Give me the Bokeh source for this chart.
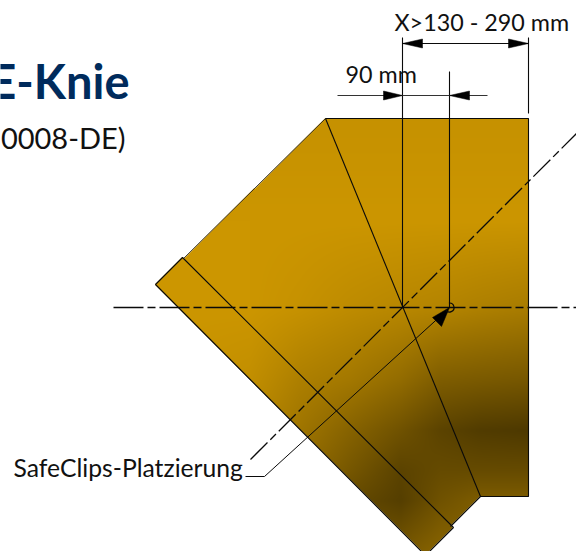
import numpy as np
from bokeh.plotting import figure
from bokeh.models import Range1d
from bokeh.core.properties import value
from bokeh.embed import file_html
from bokeh.resources import INLINE

# outlines in page pixels
body_x = [325, 528, 528, 480, 450, 183]
body_y = [118, 118, 496, 496, 526, 258]
flange_x = [182, 155, 425, 453]
flange_y = [257, 284, 555, 527]
miter_x = [325, 480]
miter_y = [118, 496]
ext_x = [402, 449, 528]
ext_top = [37, 71, 37]
ext_bot = [307, 307, 113]
dim1_x = [402, 528]
dim1_y = [43, 43]
dim2_x = [337, 487]
dim2_y = [95, 95]
center_h_x = [113, 576]
center_h_y = [307, 307]
center_d_x = [250, 576]
center_d_y = [459, 133]
leader_x = [245, 264, 445]
leader_y = [476, 476, 311]
arrow_xs = [[402, 422, 422], [528, 508, 508], [402, 383, 383], [449, 469, 469], [449, 441, 432]]
arrow_ys = [[43, 38.5, 47.5], [43, 38.5, 47.5], [95, 90.5, 99.5], [95, 90.5, 99.5], [307, 326, 317]]
# brightness of the gold surface on a coarse grid
shade_x = [150, 250, 300, 350, 400, 440, 480, 530]
shade_y = [118, 220, 310, 380, 430, 470, 500, 555]
shade = [
    [.97, .97, .97, .97, .97, .97, .97, .97],
    [1.0, 1.0, 1.0, 1.0, 1.0, 1.0, 1.0, 1.0],
    [1.0, 1.0, .97, .93, .90, .88, .85, .82],
    [1.0, .95, .85, .80, .72, .62, .60, .58],
    [1.0, .90, .78, .66, .55, .45, .40, .38],
    [1.0, .85, .72, .58, .45, .50, .50, .50],
    [1.0, .80, .65, .50, .42, .55, .62, .62],
    [1.0, .80, .65, .55, .60, .68, .68, .68],
]
gold = np.array([204, 150, 0])
title = "E-Knie"
subtitle = "0008-DE)"
dim1_label = "X>130 - 290 mm"
dim2_label = "90 mm"
leader_label = "SafeClips-Platzierung"

W, H = 576, 551
p = figure(width=W, height=H, output_backend="svg", toolbar_location=None,
           x_range=Range1d(0, W), y_range=Range1d(H, 0), min_border=0)
p.axis.visible = False
p.grid.visible = False
p.outline_line_color = None
p.background_fill_color = "white"
p.border_fill_color = "white"


def inside(px, py, xs, ys):
    res = np.zeros(px.shape, bool)
    n = len(xs)
    for i in range(n):
        x1, y1, x2, y2 = xs[i], ys[i], xs[(i + 1) % n], ys[(i + 1) % n]
        if y1 == y2:
            continue
        cross = ((y1 > py) != (y2 > py)) & (px < (x2 - x1) * (py - y1) / (y2 - y1) + x1)
        res ^= cross
    return res


x0, x1, y0, y1 = 150, 535, 112, 556
gx, gy = np.meshgrid(np.arange(x0, x1) + .5, np.arange(y0, y1) + .5)
sh = np.array(shade)
rows = np.array([np.interp(gx[0], shade_x, r) for r in sh])
field = np.array([np.interp(gy[:, 0], shade_y, c) for c in rows.T]).T
mask = inside(gx, gy, body_x, body_y) | inside(gx, gy, flange_x, flange_y)
img = np.zeros(gx.shape, dtype=np.uint32)
view = img.view(np.uint8).reshape(gx.shape + (4,))
for c in range(3):
    view[..., c] = np.clip(gold[c] * field, 0, 255).astype(np.uint8)
view[..., 3] = mask * 255
p.image_rgba(image=[img[::-1]], x=x0, y=y1, dw=x1 - x0, dh=y1 - y0, anchor="top_left", origin="top_left")

ink = "#0a0a0a"
p.line(body_x[:5], body_y[:5], line_color=ink, line_width=1.1)
p.line([body_x[0], body_x[5]], [body_y[0], body_y[5]], line_color=ink, line_width=.9, line_alpha=.85)
p.patch(flange_x, flange_y, fill_color=None, line_color=ink, line_width=1.1)
p.line(miter_x, miter_y, line_color=ink, line_width=1.1)
p.segment(ext_x, ext_top, ext_x, ext_bot, line_color=ink, line_width=1.1)
p.line(dim1_x, dim1_y, line_color=ink, line_width=1)
p.line(dim2_x, dim2_y, line_color="#333333", line_width=1)
p.line(center_h_x, center_h_y, line_color=ink, line_width=1.4, line_dash="30 4 8 4")
p.line(center_d_x, center_d_y, line_color=ink, line_width=1.3, line_dash="24 4 8 4")
p.line(leader_x, leader_y, line_color=ink, line_width=1)
p.patches(arrow_xs, arrow_ys, fill_color="black", line_color="black", line_width=.5)
p.arc(x=[449], y=[307], radius=[4.5], start_angle=[-2.6], end_angle=[1.7], direction="anticlock",
      line_color=ink, line_width=1.2)

p.text([129], [80], text=[title], text_font=value("Lato"), text_font_style="bold", text_font_size="47px",
       text_color="#002b5c", text_align="right", text_baseline="alphabetic")
p.text([125], [137], text=[subtitle], text_font=value("Lato"), text_font_size="29px",
       text_color="#111111", text_align="right", text_baseline="alphabetic")
p.text([394], [21], text=[dim1_label], text_font=value("Lato"), text_font_size="23.3px",
       text_color="#111111", text_align="left", text_baseline="alphabetic")
p.text([345], [73], text=[dim2_label], text_font=value("Lato"), text_font_size="23.3px",
       text_color="#111111", text_align="left", text_baseline="alphabetic")
p.text([13], [467], text=[leader_label], text_font=value("Lato"), text_font_size="24.7px",
       text_color="#111111", text_align="left", text_baseline="alphabetic")

open("out.html", "w").write(file_html(p, INLINE))
